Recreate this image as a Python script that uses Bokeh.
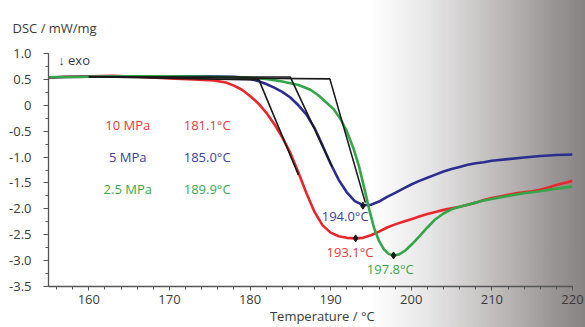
from bokeh.plotting import figure
from bokeh.models import FixedTicker, Label, ColumnDataSource
from bokeh.core.properties import value
from bokeh.embed import file_html
from bokeh.resources import INLINE
import numpy as np

# ---- data ----
red_T = [155, 157, 160, 163, 166, 170, 173, 175.5, 177, 178, 179, 180, 181, 182, 183, 184, 185, 186, 187, 188,
         189, 190, 191, 192, 193.1, 194, 195, 196, 197, 198, 199, 200, 201, 202, 203, 204, 205, 206, 207, 208,
         209, 210, 211, 212, 213, 214, 215, 216, 217, 218, 219, 220]
red_v = [0.53, 0.55, 0.56, 0.57, 0.55, 0.52, 0.50, 0.48, 0.44, 0.38, 0.30, 0.18, 0.04, -0.14, -0.36, -0.62, -0.92, -1.30, -1.70, -2.06,
         -2.32, -2.46, -2.53, -2.56, -2.57, -2.56, -2.51, -2.44, -2.36, -2.30, -2.25, -2.20, -2.15, -2.10, -2.06, -2.02, -1.99, -1.96, -1.92, -1.88,
         -1.83, -1.79, -1.76, -1.73, -1.70, -1.68, -1.66, -1.63, -1.59, -1.54, -1.50, -1.46]

blue_T = [155, 160, 165, 170, 175, 178, 179.5, 181, 182, 183, 184, 185, 186, 187, 188, 189, 190, 191, 192, 193,
          194, 195, 196, 197, 198, 199, 200, 201, 202, 203, 204, 205, 206, 207, 208, 209, 210, 212, 214, 216, 218, 220]
blue_v = [0.54, 0.55, 0.56, 0.56, 0.56, 0.55, 0.53, 0.47, 0.41, 0.34, 0.26, 0.15, 0.00, -0.18, -0.44, -0.78, -1.13, -1.44, -1.68, -1.85,
          -1.93, -1.92, -1.86, -1.77, -1.69, -1.61, -1.53, -1.46, -1.40, -1.34, -1.28, -1.23, -1.19, -1.15, -1.12, -1.10, -1.07, -1.04, -1.01, -0.98, -0.96, -0.95]

green_T = [155, 160, 165, 170, 175, 179, 182, 184, 186, 187.5, 188.5, 189.5, 190.4, 191.2, 192, 192.8, 193.5, 194.2, 194.8, 195.4,
           196, 196.6, 197.2, 197.8, 198.5, 199.3, 200.1, 201, 202, 203, 204, 205, 206, 207, 208, 209, 210, 212, 214, 216, 218, 219, 220]
green_v = [0.54, 0.55, 0.56, 0.56, 0.55, 0.54, 0.51, 0.46, 0.39, 0.30, 0.19, 0.05, -0.08, -0.26, -0.50, -0.82, -1.17, -1.62, -2.02, -2.38,
           -2.62, -2.78, -2.87, -2.90, -2.88, -2.80, -2.68, -2.53, -2.36, -2.20, -2.09, -2.01, -1.96, -1.92, -1.88, -1.84, -1.81, -1.75, -1.70, -1.66, -1.61, -1.59, -1.57]

# onset construction (baseline start, onset, tangent end)
red_tan_T = [160, 181.1, 186.0]
red_tan_v = [0.55, 0.49, -1.345]
blue_tan_T = [160, 185.0, 190.2]
blue_tan_v = [0.55, 0.545, -1.19]
green_tan_T = [160, 189.9, 194.3]
green_tan_v = [0.55, 0.51, -1.88]

peak_T = [193.1, 194.0, 197.8]
peak_v = [-2.57, -1.94, -2.90]
peak_labels = ["193.1°C", "194.0°C", "197.8°C"]
peak_label_T = [192.4, 191.8, 197.4]
peak_label_v = [-2.84, -2.14, -3.16]

pressures = ["10 MPa", "5 MPa", "2.5 MPa"]
onsets = ["181.1°C", "185.0°C", "189.9°C"]
legend_v = [-0.39, -1.0, -1.62]

x_ticks = [160, 170, 180, 190, 200, 210, 220]
y_ticks = [1.0, 0.5, 0, -0.5, -1.0, -1.5, -2.0, -2.5, -3.0, -3.5]
y_tick_labels = ["1.0", "0.5", "0", "-0.5", "-1.0", "-1.5", "-2.0", "-2.5", "-3.0", "-3.5"]

RED = "#e8262b"
BLUE = "#2b2e8f"
GREEN = "#34a548"
RED_T = "#e8383d"
BLUE_T = "#3d4199"
GREEN_T = "#3aa94b"
colors = [RED, BLUE, GREEN]
text_colors = [RED_T, BLUE_T, GREEN_T]
FONT = "Open Sans"
TXT = "#3a3a3a"

p = figure(width=585, height=327, x_range=(155, 220), y_range=(-3.5, 1.0),
           output_backend="svg", toolbar_location=None,
           min_border_left=48, min_border_right=13, min_border_top=52, min_border_bottom=39)
p.background_fill_color = None
p.border_fill_color = None
p.outline_line_color = None
p.styles = {"background": "linear-gradient(to right, #ffffff 0px, #ffffff 372px, #f6f6f6 392px, "
                          "#e6e5e5 430px, #cfcdcc 470px, #b3b0af 515px, #9a9695 552px, #878382 585px)"}
p.xgrid.visible = False
p.ygrid.visible = False

p.title.text = "DSC / mW/mg"
p.title.align = "left"
p.title.offset = -36
p.title.standoff = 33
p.title.text_font = FONT
p.title.text_font_size = "13px"
p.title.text_font_style = "normal"
p.title.text_color = TXT

for ax in (p.xaxis, p.yaxis):
    ax.axis_line_color = "#555555"
    ax.axis_line_width = 1.3
    ax.major_tick_line_color = "#555555"
    ax.minor_tick_line_color = "#555555"
    ax.major_tick_in = 0
    ax.minor_tick_in = 0
    ax.major_label_text_font = FONT
    ax.major_label_text_font_size = "13px"
    ax.major_label_text_color = TXT

p.xaxis.ticker = FixedTicker(ticks=x_ticks, minor_ticks=list(np.arange(156, 221, 2)))
p.xaxis.major_tick_out = 4
p.xaxis.minor_tick_out = 3
p.xaxis.major_label_standoff = 4
p.xaxis.axis_label = "\u00a0" * 7 + "Temperature / °C"
p.xaxis.axis_label_standoff = 0
p.xaxis.axis_label_text_font = FONT
p.xaxis.axis_label_text_font_size = "13px"
p.xaxis.axis_label_text_font_style = "normal"
p.xaxis.axis_label_text_color = TXT
p.yaxis.ticker = FixedTicker(ticks=y_ticks, minor_ticks=list(np.arange(-3.5, 1.01, 0.25)))
p.yaxis.major_tick_out = 5
p.yaxis.minor_tick_out = 3
p.yaxis.major_label_standoff = 12
p.yaxis.major_label_overrides = dict(zip(y_ticks, y_tick_labels))

# curves
p.line(red_T, red_v, line_color=RED, line_width=2.6)
p.line(blue_T, blue_v, line_color=BLUE, line_width=2.6)
p.line(green_T, green_v, line_color=GREEN, line_width=2.6)

# tangents
for tt, tv in ((red_tan_T, red_tan_v), (blue_tan_T, blue_tan_v), (green_tan_T, green_tan_v)):
    p.line(tt, tv, line_color="#1a1a1a", line_width=1.6)

# peak markers
p.scatter(peak_T, peak_v, marker="diamond", size=7, color="#1a1a1a")

# peak labels
src_pk = ColumnDataSource(dict(x=peak_label_T, y=peak_label_v, t=peak_labels, c=text_colors))
p.text(x="x", y="y", text="t", text_color="c", source=src_pk, text_font=value(FONT),
       text_font_size="13px", text_align="center", text_baseline="middle")

# legend texts
src_lg = ColumnDataSource(dict(x=[164.83] * 3, y=legend_v, t=pressures, c=text_colors))
p.text(x="x", y="y", text="t", text_color="c", source=src_lg, text_font=value(FONT),
       text_font_size="13px", text_align="center", text_baseline="middle")
src_on = ColumnDataSource(dict(x=[171.77] * 3, y=legend_v, t=onsets, c=text_colors))
p.text(x="x", y="y", text="t", text_color="c", source=src_on, text_font=value(FONT),
       text_font_size="13px", text_align="left", text_baseline="middle")

p.add_layout(Label(x=156.2, y=0.88, text="↓ exo", text_font=FONT, text_font_size="13px",
                   text_color=TXT, text_baseline="middle"))

open("out.html", "w").write(file_html(p, INLINE))
